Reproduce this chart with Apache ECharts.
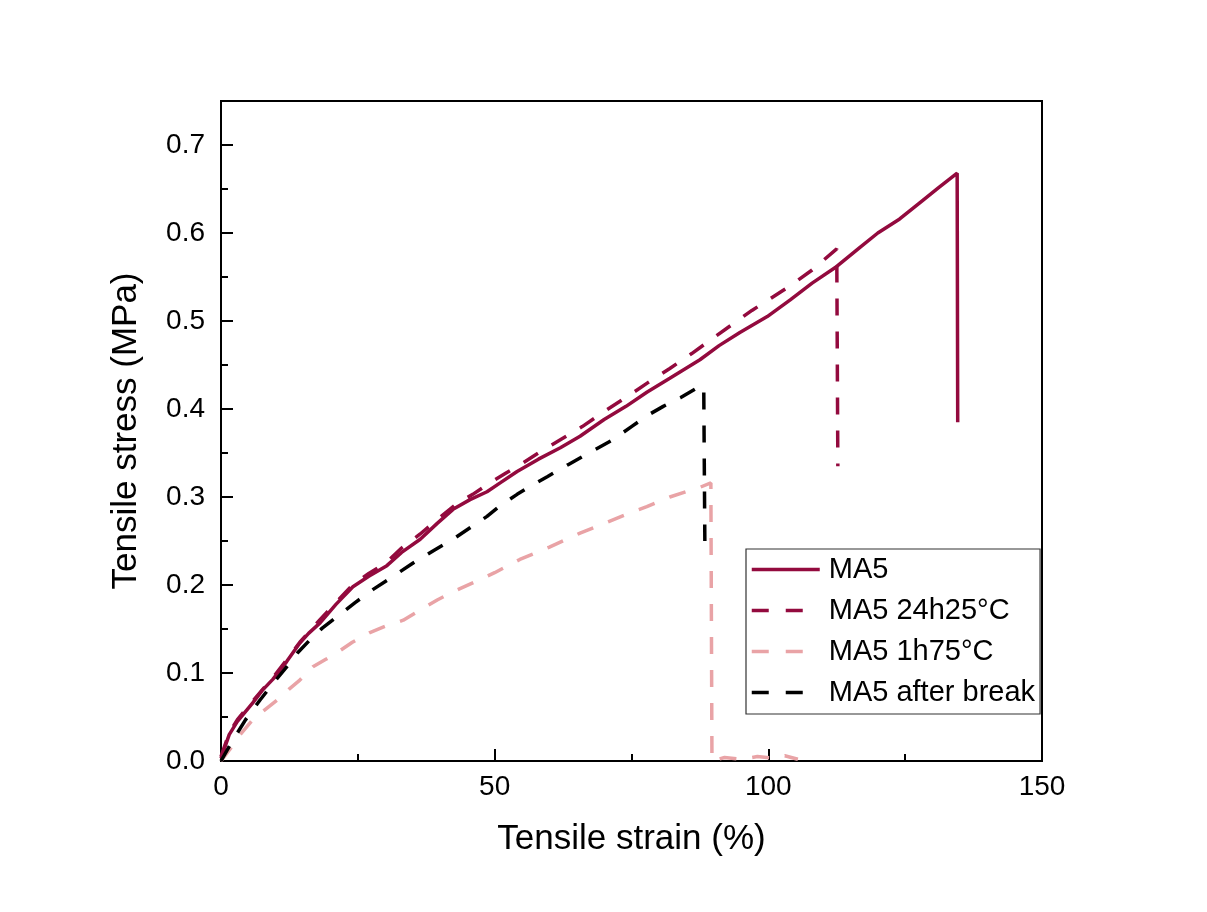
<!DOCTYPE html>
<html>
<head>
<meta charset="utf-8">
<script src="https://cdn.jsdelivr.net/npm/echarts@6/dist/echarts.min.js"></script>
<style>
html,body{margin:0;padding:0;background:#fff;}
#chart{width:1207px;height:912px;}
</style>
</head>
<body>
<div id="chart"></div>
<script>
// ---- data ----
const seriesNames = ['MA5', 'MA5 24h25\u00B0C', 'MA5 1h75\u00B0C', 'MA5 after break'];

const ma5 = [[0,0.003],[1.5,0.03],[3,0.045],[5.8,0.066],[7.5,0.08],[9.5,0.093],[12,0.113],[14.4,0.134],[16,0.145],[18.1,0.157],[21,0.178],[24.1,0.198],[27,0.21],[30.3,0.222],[33,0.237],[36.4,0.252],[39.5,0.27],[42.4,0.286],[45.5,0.297],[48.6,0.306],[51,0.316],[54.1,0.329],[58,0.343],[62,0.356],[65.6,0.369],[70,0.388],[74,0.403],[77.8,0.419],[82,0.435],[87.5,0.456],[91,0.472],[94.8,0.487],[99.8,0.505],[104,0.524],[108,0.543],[112.5,0.562],[116.8,0.584],[120,0.6],[124,0.616],[128,0.636],[131,0.651],[134.5,0.668],[134.6,0.385]];

const ma5_24h25 = [[0,0.005],[1.5,0.032],[3,0.047],[5.8,0.068],[9.5,0.095],[12,0.115],[14.4,0.135],[18,0.16],[21,0.18],[24,0.2],[27,0.213],[30.3,0.226],[33,0.242],[36.4,0.258],[40,0.277],[43,0.292],[46,0.303],[49.1,0.316],[52,0.327],[55,0.338],[58,0.35],[62,0.365],[66,0.38],[70,0.397],[74.2,0.414],[78,0.43],[82,0.446],[86,0.463],[90,0.481],[93.6,0.497],[97,0.512],[100,0.524],[104,0.54],[108,0.558],[112.5,0.582],[112.7,0.335]];

const ma5_1h75 = [[0,0],[1.6,0.013],[3.5,0.03],[5.8,0.047],[8,0.058],[10.2,0.069],[12.5,0.082],[14.4,0.092],[16.8,0.107],[19,0.115],[21.2,0.123],[24,0.135],[27.2,0.146],[30,0.153],[33.3,0.16],[36.5,0.172],[39.5,0.183],[43,0.194],[47.3,0.206],[50,0.214],[54.6,0.229],[60,0.243],[65.6,0.259],[70,0.27],[74,0.28],[77.8,0.289],[82,0.3],[85,0.306],[87.5,0.311],[89.5,0.316],[89.7,0.0],[92,0.004],[95,0.002],[98,0.005],[101,0.003],[103,0.006],[105.4,0.002]];

const ma5_afterBreak = [[0,0],[2.2,0.024],[4.5,0.047],[7.1,0.069],[9.5,0.088],[12,0.107],[14,0.123],[16.3,0.138],[18.5,0.151],[21.2,0.164],[24.5,0.18],[27.8,0.195],[31.5,0.21],[35.1,0.225],[38.8,0.239],[42.4,0.252],[45.5,0.265],[48.6,0.278],[51,0.29],[54.1,0.303],[57,0.314],[59.6,0.323],[63.5,0.337],[67.5,0.351],[71.6,0.365],[75,0.38],[78,0.393],[80.8,0.403],[84,0.413],[87,0.424],[88.2,0.426],[88.4,0.25]];

const xTicks = [0, 50, 100, 150];
const yTickLabels = ['0.0','0.1','0.2','0.3','0.4','0.5','0.6','0.7'];

// ---- chart ----
const FONT = '"Liberation Sans", Arial, sans-serif';
const chart = echarts.init(document.getElementById('chart'), null, {renderer: 'canvas'});

const colors = ['#930A3E', '#930A3E', '#E9A3A6', '#000000'];
const dash = [17, 16];
const types = ['solid', dash, dash, dash];
function mk(i, data) {
  return {
    name: seriesNames[i], type: 'line', data: data, symbol: 'none', smooth: false,
    xAxisIndex: 0, yAxisIndex: 0,
    lineStyle: {color: colors[i], width: 3.5, type: types[i]},
    itemStyle: {color: colors[i]},
    emphasis: {disabled: true}
  };
}

const option = {
  animation: false,
  backgroundColor: '#ffffff',
  grid: {left: 221, right: 165, top: 101, bottom: 151, show: true, borderColor: '#000', borderWidth: 2, backgroundColor: 'transparent'},
  legend: {
    orient: 'vertical', left: 746, top: 549,
    data: seriesNames.map((n, i) => ({
      name: n,
      lineStyle: {color: colors[i], width: 3.5, type: i === 0 ? 'solid' : [17, 17]}
    })),
    itemWidth: 68, itemHeight: 14, itemGap: 12,
    padding: [6, 5, 7, 4],
    itemStyle: {opacity: 0},
    backgroundColor: '#fff', borderColor: '#333', borderWidth: 1.2,
    textStyle: {fontFamily: FONT, fontSize: 29, color: '#000', lineHeight: 29, padding: [0, 0, 0, 4]}
  },
  xAxis: {
    type: 'value', min: 0, max: 150, interval: 50,
    name: 'Tensile strain (%)', nameLocation: 'middle', nameGap: 61,
    nameTextStyle: {fontFamily: FONT, fontSize: 35, color: '#000'},
    axisLine: {show: true, lineStyle: {color: '#000', width: 2}},
    axisTick: {show: true, inside: true, length: 12, lineStyle: {color: '#000', width: 2}},
    minorTick: {show: true, splitNumber: 2, length: 7, lineStyle: {color: '#000', width: 2}},
    splitLine: {show: false}, minorSplitLine: {show: false},
    axisLabel: {fontFamily: FONT, fontSize: 28, color: '#000', margin: 12,
      formatter: v => xTicks.indexOf(v) >= 0 ? String(v) : ''}
  },
  yAxis: [{
    type: 'value', min: 0, max: 0.75, interval: 0.1, position: 'left',
    name: 'Tensile stress (MPa)', nameLocation: 'middle', nameGap: 77,
    nameTextStyle: {fontFamily: FONT, fontSize: 35, color: '#000'},
    axisLine: {show: true, lineStyle: {color: '#000', width: 2}},
    axisTick: {show: true, inside: true, length: 12, lineStyle: {color: '#000', width: 2}},
    splitLine: {show: false},
    axisLabel: {fontFamily: FONT, fontSize: 28, color: '#000', margin: 16, showMaxLabel: false,
      formatter: v => { const i = Math.round(v * 10); return (Math.abs(v * 10 - i) < 1e-6 && i < yTickLabels.length) ? yTickLabels[i] : ''; }}
  }, {
    type: 'value', min: 0, max: 0.75, interval: 0.05, position: 'left', offset: 0,
    axisLine: {show: false},
    axisTick: {show: true, inside: true, length: 7, lineStyle: {color: '#000', width: 2}},
    axisLabel: {show: false}, splitLine: {show: false}
  }],
  series: [
    mk(0, ma5),
    mk(1, ma5_24h25),
    mk(2, ma5_1h75),
    mk(3, ma5_afterBreak)
  ]
};
chart.setOption(option);
</script>
</body>
</html>
